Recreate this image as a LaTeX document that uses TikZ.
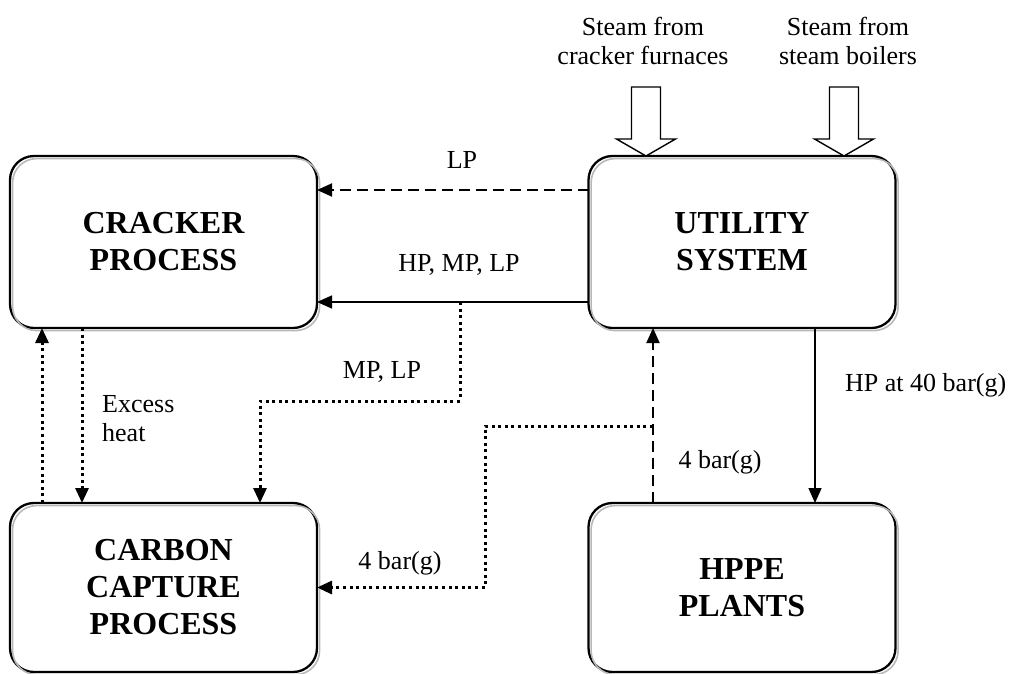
\documentclass[tikz,border=0pt]{standalone}
\usepackage{fontspec}
\setmainfont{Liberation Serif}
\usetikzlibrary{arrows.meta}
\begin{document}
\begin{tikzpicture}[x=1pt,y=-1pt,
 box/.style={draw=black, line width=2.3pt, rounded corners=24pt, minimum width=307pt, minimum height=172pt, align=center, font=\fontsize{32}{37}\selectfont\bfseries, inner sep=0pt, outer sep=0pt},
 lowbox/.style={box, minimum height=169pt},
 shadowbox/.style={draw=black!28, line width=1.6pt, rounded corners=24pt},
 lbl/.style={font=\fontsize{26}{29}\selectfont, align=center, inner sep=0pt},
 tip/.style={-{Triangle[length=15pt,width=13pt]}},
 solidarrow/.style={tip, line width=1.5pt},
 dashedarrow/.style={tip, line width=1.9pt, dash pattern=on 11pt off 6pt},
 dotarrow/.style={tip, line width=3pt, dash pattern=on 3pt off 3.6pt},
 blockarrow/.style={draw=black, line width=1.4pt, fill=white, line join=miter}]
\useasboundingbox (0,0) rectangle (1011,673);

% boxes
\node[box] (crack) at (163.5,242) {CRACKER\\PROCESS};
\node[box] (util) at (742,242) {UTILITY\\SYSTEM};
\node[lowbox] (carbon) at (163.5,587.5) {CARBON\\CAPTURE\\PROCESS};
\node[lowbox] (hppe) at (742,587.5) {HPPE\\PLANTS};

% shadows
\foreach \b in {crack,util,carbon,hppe}{
  \draw[shadowbox] ([shift={(2.6,2.6)}]\b.north west) rectangle ([shift={(2.6,2.6)}]\b.south east);
}

% steam inputs
\node[lbl] (s1) at (643,41) {Steam from\\cracker furnaces};
\node[lbl] (s2) at (848,41) {Steam from\\steam boilers};
\coordinate (t1) at ([xshift=-96pt]util.north);
\coordinate (t2) at ([xshift=102pt]util.north);
\foreach \t in {t1,t2}{
  \draw[blockarrow] (\t) -- ++(29.5,-17) -- ++(-15,0) -- ++(0,-52) -- ++(-29,0) -- ++(0,52) -- ++(-15,0) -- cycle;
}

% utility -> cracker
\draw[dashedarrow] ([yshift=52pt]util.west) -- ([yshift=52pt]crack.east);
\draw[solidarrow] ([yshift=-60pt]util.west) -- ([yshift=-60pt]crack.east);
\node[lbl] (lLP) at (462,160) {LP};
\node[lbl] (lHMP) at (459,265) {HP, MP, LP};

% MP, LP branch to carbon capture
\coordinate (j1) at (460,302);
\draw[dotarrow] (j1) -- (460,401) -| ([xshift=96.5pt]carbon.north);
\node[lbl] (lMPLP) at (382,372) {MP, LP};

% cracker <-> carbon capture
\draw[dotarrow] ([xshift=-81.5pt]crack.south) -- ([xshift=-81.5pt]carbon.north);
\draw[dotarrow] ([xshift=-121.5pt]carbon.north) -- ([xshift=-121.5pt]crack.south);
\node[lbl, anchor=west, align=left] (lEx) at (102,419) {Excess\\heat};

% utility <-> HPPE
\draw[solidarrow] ([xshift=73pt]util.south) -- ([xshift=73pt]hppe.north);
\node[lbl, anchor=west] (l40) at (845,385) {HP at 40 bar(g)};
\draw[dashedarrow] ([xshift=-89pt]hppe.north) -- ([xshift=-89pt]util.south);
\node[lbl] (l4r) at (720,462) {4 bar(g)};

% 4 bar(g) branch to carbon capture
\coordinate (j2) at (653,426);
\draw[dotarrow] (j2) -- (485,426) |- (carbon.east);
\node[lbl] (l4l) at (400,563) {4 bar(g)};
\end{tikzpicture}
\end{document}
